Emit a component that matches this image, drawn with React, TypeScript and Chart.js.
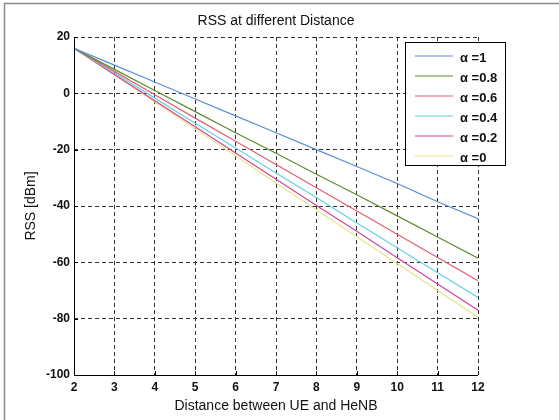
import React, { useEffect, useRef } from "react";
import { Chart, registerables } from "chart.js";

Chart.register(...registerables);

const distances = [2, 3, 4, 5, 6, 7, 8, 9, 10, 11, 12];
const seriesLabels = ["α =1", "α =0.8", "α =0.6", "α =0.4", "α =0.2", "α =0"];
const alpha1 = [16, 10, 4, -2, -8, -14, -20, -26, -32, -38.5, -44.5];
const alpha08 = [16, 8.5, 1, -6.5, -14, -21.3, -28.7, -36, -43.5, -51, -58.5];
const alpha06 = [16, 7.8, -0.5, -8.8, -17, -25.3, -33.5, -41.8, -50, -58.3, -66.5];
const alpha04 = [16, 7.2, -1.7, -10.6, -19.4, -28.3, -37, -46, -54.8, -63.7, -72.5];
const alpha02 = [16, 6.7, -2.6, -11.9, -21.2, -30.5, -39.8, -49, -58.4, -67.7, -77];
const alpha0 = [16, 6.5, -3.1, -12.7, -22.2, -31.8, -41.3, -50.9, -60.4, -70, -79.5];
const seriesColors = ["#5b8ed8", "#5a8c2c", "#e2606e", "#62d2e2", "#d2449e", "#e6e68a"];
const titleText = "RSS at different Distance";
const xTitle = "Distance between UE and HeNB";
const yTitle = "RSS [dBm]";

export default function App() {
  const ref = useRef<HTMLCanvasElement | null>(null);
  useEffect(() => {
    document.body.style.margin = "0";
    const values = [alpha1, alpha08, alpha06, alpha04, alpha02, alpha0];
    const datasets = values.map((v, i) => ({
      label: seriesLabels[i],
      data: v.map((y, j) => ({ x: distances[j], y })),
      borderColor: seriesColors[i],
      backgroundColor: seriesColors[i],
      borderWidth: 1.2,
      pointRadius: 0,
      fill: false,
      tension: 0,
    }));
    const font = "Arial, 'Liberation Sans', sans-serif";
    const deco = {
      id: "deco",
      beforeDraw(chart: any) {
        const c = chart.ctx;
        c.save();
        c.fillStyle = "#fff";
        c.fillRect(0, 0, chart.width, chart.height);
        c.strokeStyle = "#8a8a8a";
        c.lineWidth = 1.5;
        c.beginPath();
        c.moveTo(4.5, 420);
        c.lineTo(4.5, 3.5);
        c.lineTo(559, 3.5);
        c.stroke();
        c.restore();
      },
      afterDraw(chart: any) {
        const c = chart.ctx;
        const a = chart.chartArea;
        c.save();
        c.strokeStyle = "#000";
        c.lineWidth = 1;
        c.setLineDash([]);
        c.beginPath();
        c.moveTo(a.left + 0.5, a.top);
        c.lineTo(a.left + 0.5, a.bottom + 0.5);
        c.lineTo(a.right, a.bottom + 0.5);
        c.stroke();
        const xs = chart.scales.x;
        const ys = chart.scales.y;
        c.beginPath();
        distances.forEach((d) => {
          const px = Math.round(xs.getPixelForValue(d)) + 0.5;
          c.moveTo(px, a.bottom);
          c.lineTo(px, a.bottom - 4);
        });
        for (let v = -100; v <= 20; v += 20) {
          const py = Math.round(ys.getPixelForValue(v)) + 0.5;
          c.moveTo(a.left, py);
          c.lineTo(a.left + 4, py);
        }
        c.stroke();
        c.fillStyle = "#111";
        c.textAlign = "center";
        c.textBaseline = "middle";
        c.font = `14px ${font}`;
        c.fillText(titleText, (a.left + a.right) / 2, 21);
        c.fillText(xTitle, (a.left + a.right) / 2, 406);
        c.save();
        c.translate(31, (a.top + a.bottom) / 2);
        c.rotate(-Math.PI / 2);
        c.fillText(yTitle, 0, 0);
        c.restore();
        const lx = 405, ly = 42, lw = 100, lh = 123;
        c.fillStyle = "#fff";
        c.fillRect(lx, ly, lw, lh);
        c.strokeStyle = "#000";
        c.lineWidth = 1;
        c.strokeRect(lx + 0.5, ly + 0.5, lw, lh);
        c.textAlign = "left";
        c.font = `bold 13px ${font}`;
        seriesLabels.forEach((lab, i) => {
          const yy = ly + 14 + i * 20;
          c.strokeStyle = seriesColors[i];
          c.lineWidth = 1.2;
          c.beginPath();
          c.moveTo(lx + 10, yy);
          c.lineTo(lx + 48, yy);
          c.stroke();
          c.fillStyle = "#111";
          c.fillText(lab, lx + 55, yy + 2);
        });
        c.restore();
      },
    };
    const chart = new Chart(ref.current as HTMLCanvasElement, {
      type: "line",
      data: { datasets },
      plugins: [deco],
      options: {
        animation: false,
        responsive: false,
        maintainAspectRatio: false,
        layout: { padding: { left: 0, right: 81, top: 37, bottom: 0 } },
        plugins: {
          legend: { display: false },
          title: { display: false },
          tooltip: { enabled: false },
        },
        scales: {
          x: {
            type: "linear",
            min: 2,
            max: 12,
            border: { display: false, dash: [4, 3] },
            ticks: {
              stepSize: 1,
              color: "#111",
              font: { family: font, size: 12, weight: "bold" },
              padding: 5,
              maxRotation: 0,
            },
            grid: {
              color: "#333",
              lineWidth: 1,
              drawTicks: false,
              tickLength: 0,
            },
            afterFit(scale: any) {
              scale.height = 45;
            },
          },
          y: {
            min: -100,
            max: 20,
            border: { display: false, dash: [4, 3] },
            ticks: {
              stepSize: 20,
              color: "#111",
              font: { family: font, size: 12, weight: "bold" },
              padding: 4,
            },
            grid: {
              color: "#333",
              lineWidth: 1,
              drawTicks: false,
              tickLength: 0,
            },
            afterFit(scale: any) {
              scale.width = 74;
            },
          },
        },
      } as any,
    });
    return () => chart.destroy();
  }, []);
  return <canvas ref={ref} width={559} height={420} style={{ display: "block" }} />;
}
